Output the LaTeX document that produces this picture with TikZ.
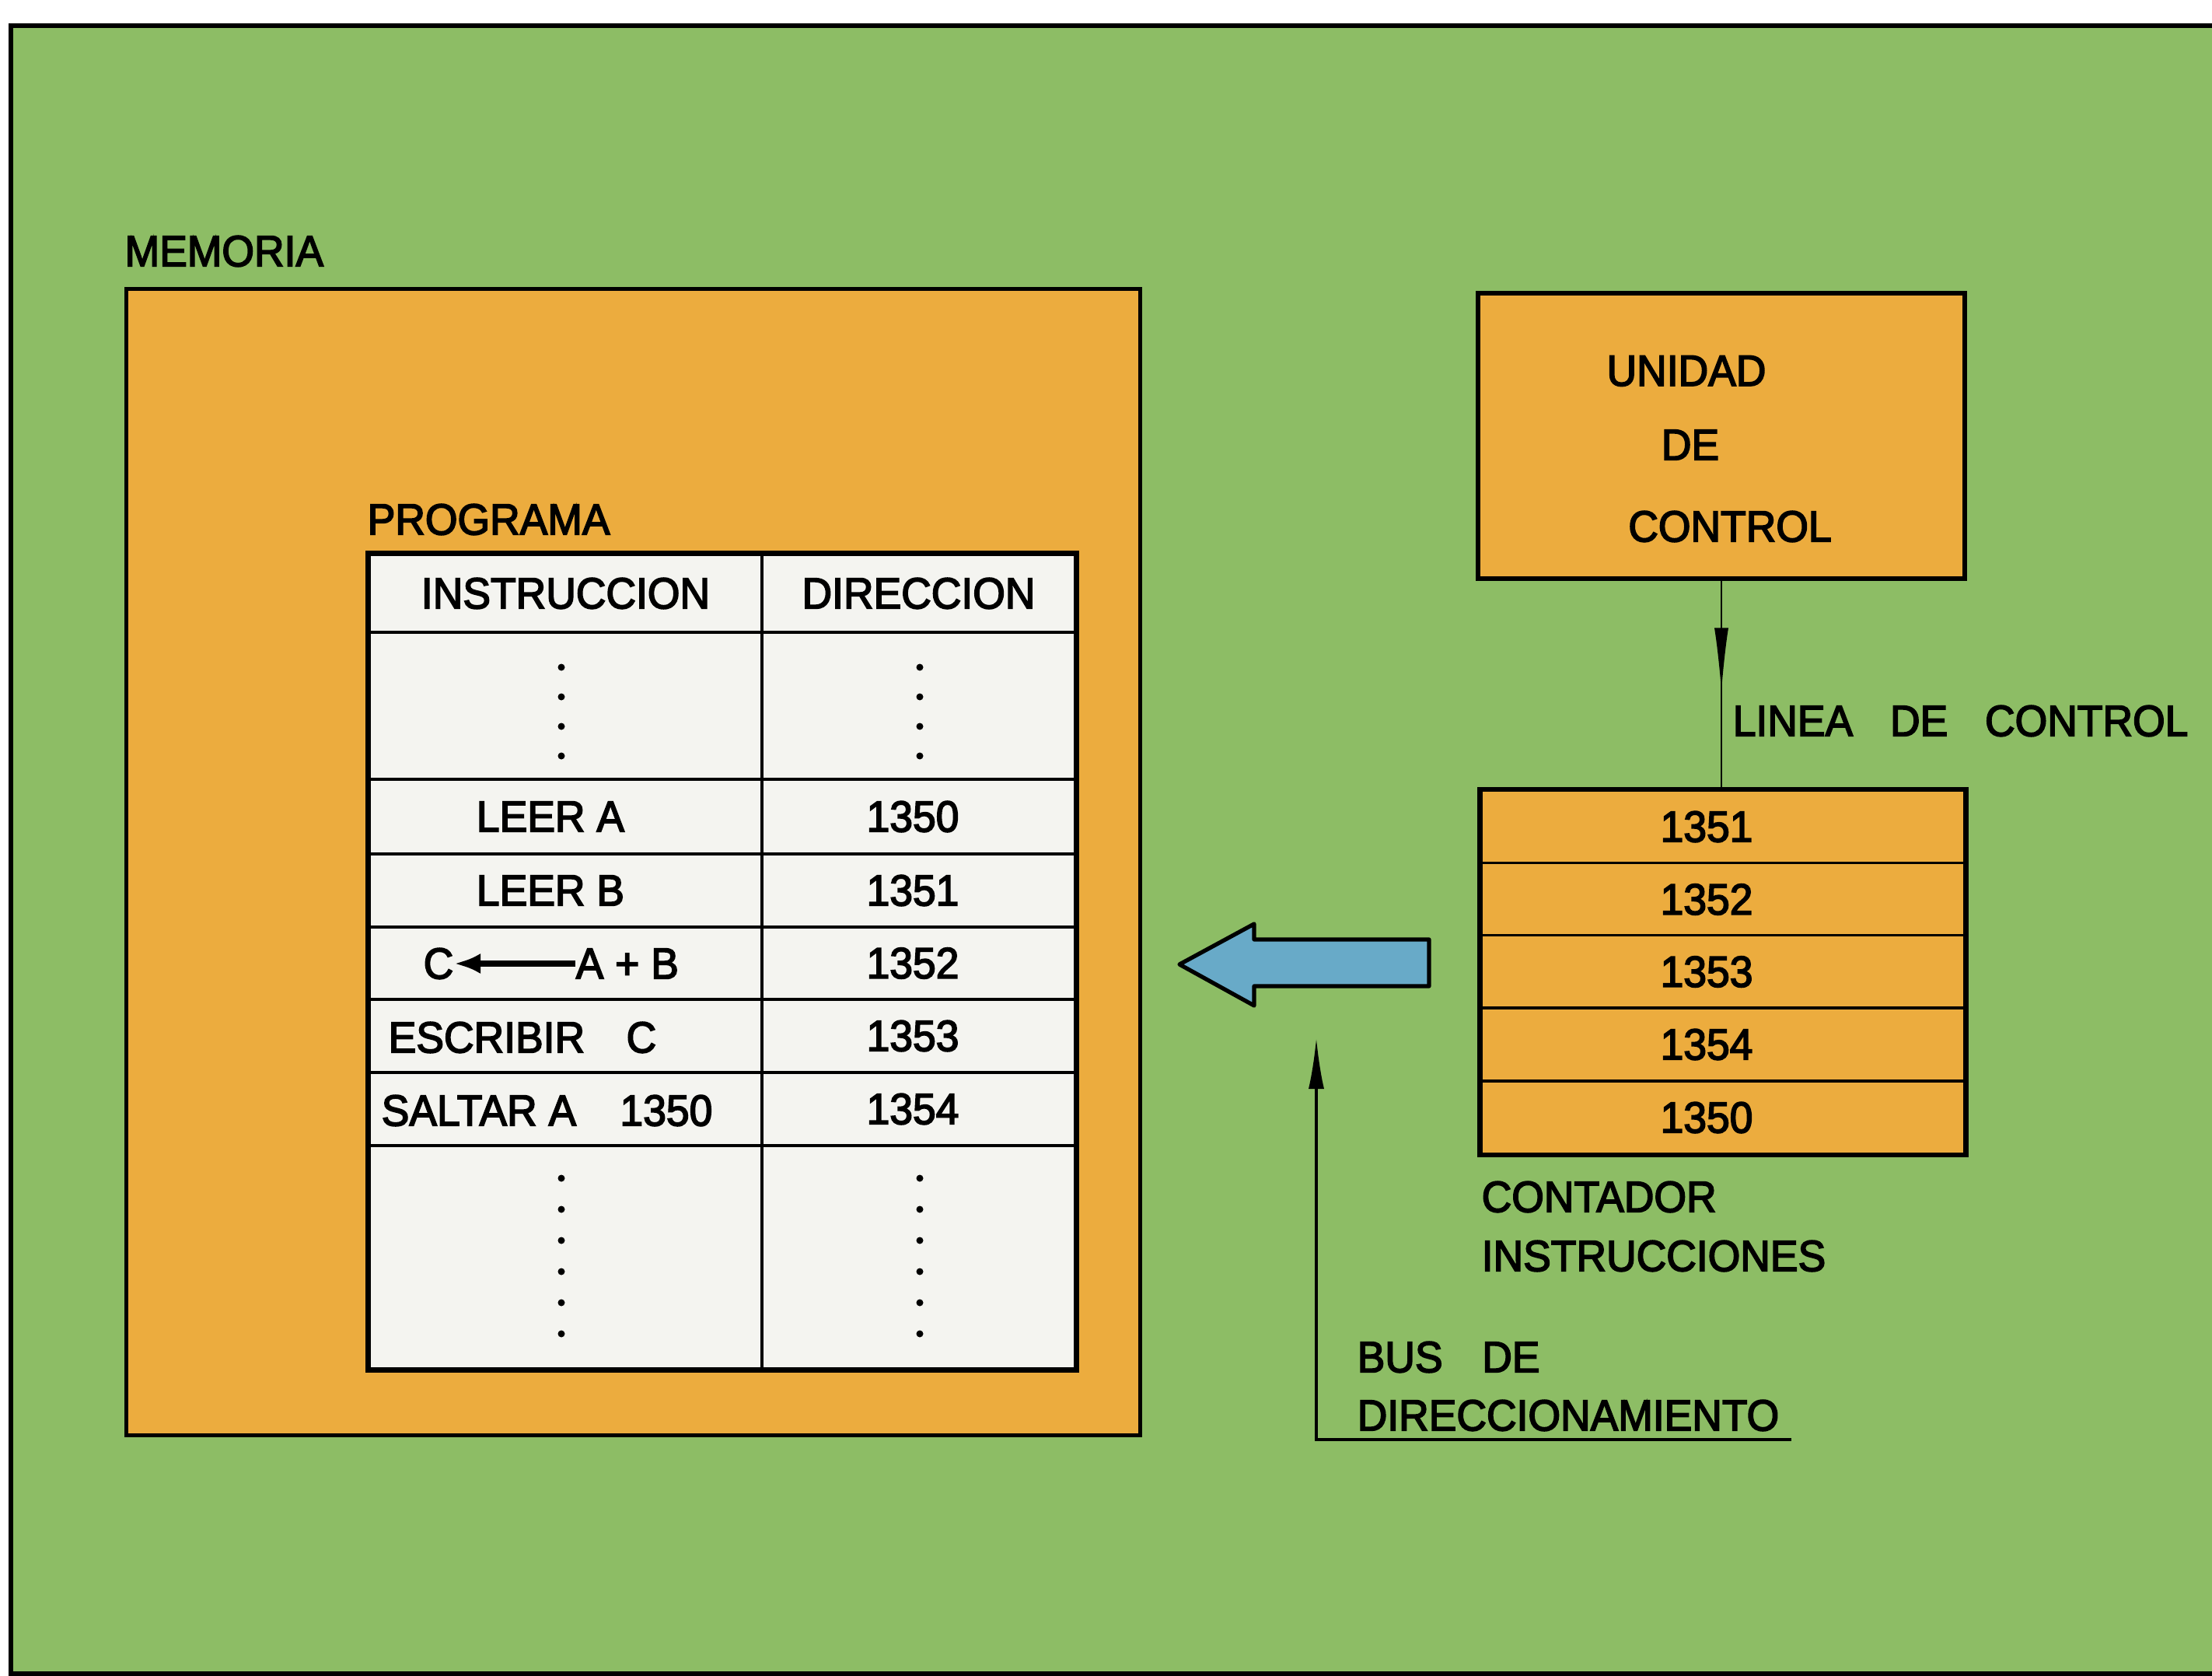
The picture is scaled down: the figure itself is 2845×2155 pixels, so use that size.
\documentclass[tikz,border=0pt]{standalone}
\usepackage{fontspec}
\setmainfont{Liberation Sans}[FakeBold=3,FakeStretch=0.95]
\usetikzlibrary{arrows.meta,decorations.markings}
\definecolor{verde}{RGB}{141,189,101}
\definecolor{naranja}{RGB}{236,172,62}
\definecolor{celeste}{RGB}{104,170,200}
\definecolor{blanco}{RGB}{244,244,240}
\newcommand{\letra}{\fontsize{16}{19}\selectfont}

\begin{document}
\begin{tikzpicture}[x=0.01cm,y=-0.01cm]
                        \tikzstyle{caja}=[draw,line width=1.6pt,fill=naranja,inner sep=0]
                        \tikzstyle{celda}=[draw,line width=1pt,fill=blanco,inner sep=0]
                        \tikzstyle{cuenta}=[draw,line width=1pt,fill=naranja,inner sep=0,minimum width=6.22cm]
                        \tikzstyle{texto}=[font=\letra,inner sep=0]
                        \useasboundingbox (0,0) rectangle (2845,2155);
                        \fill[white] (0,0) rectangle (2845,2155);
                        \fill[verde] (14,33) rectangle (2845,2152);
                        \draw[line width=1.8pt] (2845,33) -- (14,33) -- (14,2152) -- (2845,2152);

                        \node[texto,anchor=west] (memoria) at (160,323) {MEMORIA};
                        \node[caja,minimum width=13.03cm,minimum height=14.73cm] (mem) at (814.5,1108.5) {};
                        \node[texto,anchor=west] (programa) at (472,668) {PROGRAMA};

                        \node[celda,texto,minimum width=5.05cm,minimum height=1cm] (cab1) at (727.5,763) {INSTRUCCION};
                        \node[celda,texto,minimum width=4.03cm,minimum height=1cm] (cab2) at (1181.5,763) {DIRECCION};
                        \node[celda,minimum width=5.05cm,minimum height=1.89cm] (pun1) at (727.5,907.5) {};
                        \node[celda,minimum width=4.03cm,minimum height=1.89cm] (pun2) at (1181.5,907.5) {};
                        \foreach \n/\y/\h/\dir in {1/1050/0.96/1350,2/1145/0.94/1351,3/1238.5/0.93/1352,4/1332/0.94/1353,5/1426/0.94/1354}{
                            \node[celda,minimum width=5.05cm,minimum height=\h cm] (ins\n) at (727.5,\y) {};
                            \node[celda,minimum width=4.03cm,minimum height=\h cm] (dir\n) at (1181.5,\y) {};
                            \node[texto] (num\n) at (1174,\y) {\dir};
                        }
                        \node[celda,minimum width=5.05cm,minimum height=2.87cm] (fin1) at (727.5,1616.5) {};
                        \node[celda,minimum width=4.03cm,minimum height=2.87cm] (fin2) at (1181.5,1616.5) {};
                        \draw[line width=1.6pt] (cab1.north west) rectangle (fin2.south east);
                        \foreach \y in {858,896,934,972}{
                            \fill (722,\y) circle (4.5);
                            \fill (1183,\y) circle (4.5);
                        }
                        \foreach \y in {1515,1555,1595,1635,1675,1715}{
                            \fill (722,\y) circle (4.5);
                            \fill (1183,\y) circle (4.5);
                        }

                        \node[texto] (leera) at (708,1050) {LEER A};
                        \node[texto] (leerb) at (708,1145) {LEER B};
                        \node[texto] (c) at (564,1239) {C};
                        \node[texto,anchor=west] (ab) at (740,1239) {A + B};
                        \draw[line width=2pt,-{Latex[length=0.34cm,width=0.26cm]}] (ab.west) -- (c.east);
                        \node[texto,anchor=west] (escribir) at (499,1334) {ESCRIBIR\hspace{0.95em}C};
                        \node[texto,anchor=west] (saltar) at (490,1428) {SALTAR A\hspace{1em}1350};

                        \node[caja,minimum width=6.26cm,minimum height=3.67cm] (uc) at (2214,560.5) {};
                        \node[texto] (unidad) at (2169,477) {UNIDAD};
                        \node[texto] (de) at (2174,572) {DE};
                        \node[texto] (control) at (2225,677) {CONTROL};

                        \foreach \n/\y/\v in {1/1063/1351,2/1156.5/1352,3/1249.5/1353,4/1343/1354,5/1437/1350}{
                            \node[cuenta,minimum height=0.935cm] (cont\n) at (2216,\y) {};
                            \node[texto] (val\n) at (2195,\y) {\v};
                        }
                        \draw[line width=1.6pt] (cont1.north west) rectangle (cont5.south east);
                        \node[texto,anchor=west] (contador) at (1905,1539) {CONTADOR};
                        \node[texto,anchor=west] (instrucciones) at (1905,1615) {INSTRUCCIONES};

                        \draw[line width=0.5pt,decoration={markings,mark=at position 0.533 with {\arrow{Latex[length=0.82cm,width=0.18cm]}}},postaction={decorate}] (uc.south) -- (uc.south |- cont1.north);
                        \node[texto,anchor=west] (linea) at (2228,927) {LINEA\hspace{0.85em}DE\hspace{0.85em}CONTROL};

                        \draw[fill=celeste,line width=1.5pt,line join=round] (1838,1208) -- (1613,1208) -- (1613,1188) -- (1517,1240) -- (1613,1293) -- (1613,1268) -- (1838,1268) -- cycle;

                        \node[texto,anchor=west] (bus) at (1745,1745) {BUS\hspace{0.9em}DE};
                        \node[texto,anchor=west] (direcc) at (1745,1820) {DIRECCIONAMIENTO};
                        \coordinate (busfin) at (2304,1851);
                        \coordinate (buspunta) at (1693,1334);
                        \draw[line width=1.1pt,-{Latex[length=0.66cm,width=0.2cm]}] (busfin) -| (buspunta);
\end{tikzpicture}
\end{document}
